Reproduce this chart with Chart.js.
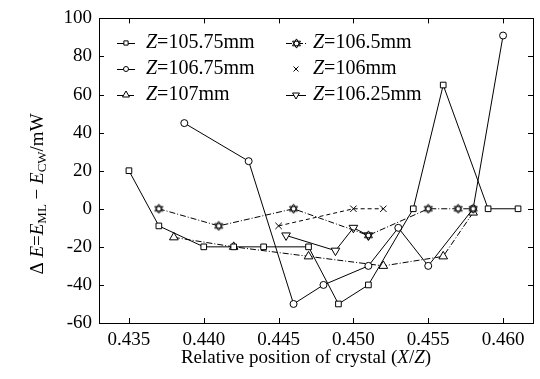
<!DOCTYPE html>
<html>
<head>
<meta charset="utf-8">
<script src="https://cdn.jsdelivr.net/npm/chart.js@4.4.1/dist/chart.umd.min.js"></script>
<style>
  html, body { margin: 0; padding: 0; background: #fff; }
  #wrap { width: 540px; height: 379px; }
</style>
</head>
<body>
<div id="wrap"><canvas id="chart" width="540" height="379"></canvas></div>
<script>
// Relative position X/Z and ΔE (mW) for each Z
const seriesNames = ['105.75mm', '106.5mm', '106.75mm', '106mm', '107mm', '106.25mm'];
const x10575 = [0.435, 0.437, 0.440, 0.442, 0.444, 0.447, 0.449, 0.451, 0.454, 0.456, 0.459, 0.461];
const y10575 = [20, -9, -20, -20, -20, -20, -50, -40, 0, 65, 0, 0];
const x1065 = [0.437, 0.441, 0.446, 0.451, 0.455, 0.457, 0.458];
const y1065 = [0, -9, 0, -14, 0, 0, 0];
const x10675 = [0.4387, 0.443, 0.446, 0.448, 0.451, 0.453, 0.455, 0.458, 0.460];
const y10675 = [45, 25, -50, -40, -30, -10, -30, 0, 91];
const x106 = [0.445, 0.450, 0.452];
const y106 = [-9, 0, 0];
const x107 = [0.438, 0.442, 0.447, 0.452, 0.456, 0.458];
const y107 = [-15, -20, -25, -30, -25, -2];
const x10625 = [0.4455, 0.4488, 0.450, 0.451];
const y10625 = [-14, -22, -10, -14];

const xTicks = [0.435, 0.440, 0.445, 0.450, 0.455, 0.460];
const yTicks = [-60, -40, -20, 0, 20, 40, 60, 80, 100];

const SERIF = '"Liberation Serif", "Times New Roman", serif';

function pts(xs, ys) {
    return xs.map((x, i) => ({ x: x, y: ys[i] }));
}

// hexagram marker (star of David)
function makeHexagram() {
    const c = document.createElement('canvas');
    c.width = 11; c.height = 11;
    const g = c.getContext('2d');
    const cx = 5.5, cy = 5.5, r = 4.6;
    const tris = [[-90, 30, 150], [90, 210, 330]];
    function path(angles) {
        g.beginPath();
        angles.forEach((a, k) => {
            const rad = a * Math.PI / 180;
            const px = cx + r * Math.cos(rad), py = cy + r * Math.sin(rad);
            if (k === 0) g.moveTo(px, py); else g.lineTo(px, py);
        });
        g.closePath();
    }
    g.fillStyle = '#fff';
    tris.forEach(t => { path(t); g.fill(); });
    g.lineWidth = 1;
    g.strokeStyle = '#000';
    tris.forEach(t => { path(t); g.stroke(); });
    return c;
}
const hexagram = makeHexagram();

function ds(label, data, style, radius, dash, rot) {
    return {
        label: label,
        data: data,
        showLine: true,
        borderColor: '#000',
        borderWidth: 1,
        borderDash: dash || [],
        tension: 0,
        pointStyle: style,
        pointRadius: radius,
        pointRotation: rot || 0,
        pointBackgroundColor: '#fff',
        pointBorderColor: '#000',
        pointBorderWidth: 1
    };
}

const datasets = [
    ds(seriesNames[0], pts(x10575, y10575), 'rect', 4),
    ds(seriesNames[1], pts(x1065, y1065), hexagram, 5, [6, 2, 1, 2]),
    ds(seriesNames[2], pts(x10675, y10675), 'circle', 3.5),
    ds(seriesNames[3], pts(x106, y106), 'crossRot', 4.5, [4, 3]),
    ds(seriesNames[4], pts(x107, y107), 'triangle', 5, [6, 2, 1, 2]),
    ds(seriesNames[5], pts(x10625, y10625), 'triangle', 5, [], 180)
];

// frame with inward ticks on all four sides
const frameTicks = {
    id: 'frameTicks',
    afterDatasetsDraw(chart) {
        const { ctx, chartArea: a, scales: { x, y } } = chart;
        ctx.save();
        ctx.strokeStyle = '#000';
        ctx.lineWidth = 1;
        ctx.setLineDash([]);
        ctx.strokeRect(Math.round(a.left) + 0.5, Math.round(a.top) + 0.5,
            Math.round(a.right - a.left), Math.round(a.bottom - a.top));
        ctx.beginPath();
        xTicks.forEach(v => {
            const px = Math.round(x.getPixelForValue(v)) + 0.5;
            ctx.moveTo(px, a.bottom); ctx.lineTo(px, a.bottom - 5);
            ctx.moveTo(px, a.top); ctx.lineTo(px, a.top + 5);
        });
        yTicks.forEach(v => {
            const py = Math.round(y.getPixelForValue(v)) + 0.5;
            ctx.moveTo(a.left, py); ctx.lineTo(a.left + 5, py);
            ctx.moveTo(a.right, py); ctx.lineTo(a.right - 5, py);
        });
        ctx.stroke();
        ctx.restore();
    }
};

// draw runs of text with mixed styles, starting at x0
function drawRuns(ctx, runs, x0, y0) {
    let xx = x0;
    runs.forEach(r => {
        ctx.font = r.font;
        ctx.fillText(r.t, xx, y0 + (r.dy || 0));
        xx += ctx.measureText(r.t).width;
    });
}
function runsWidth(ctx, runs) {
    let w = 0;
    runs.forEach(r => { ctx.font = r.font; w += ctx.measureText(r.t).width; });
    return w;
}

const axisTitles = {
    id: 'axisTitles',
    afterDraw(chart) {
        const { ctx, chartArea: a } = chart;
        const n = '19px ' + SERIF, it = 'italic 19px ' + SERIF, sub = '13px ' + SERIF;
        ctx.save();
        ctx.fillStyle = '#000';
        ctx.textBaseline = 'middle';
        ctx.textAlign = 'left';

        const xRuns = [
            { t: 'Relative position of crystal (', font: n },
            { t: 'X', font: it },
            { t: '/', font: n },
            { t: 'Z', font: it },
            { t: ')', font: n }
        ];
        const xw = runsWidth(ctx, xRuns);
        drawRuns(ctx, xRuns, (a.left + a.right) / 2 - xw / 2 - 10, 358);

        const yRuns = [
            { t: '\u0394 ', font: n },
            { t: 'E', font: it },
            { t: '=', font: n },
            { t: 'E', font: it },
            { t: 'ML', font: sub, dy: 5 },
            { t: ' \u2212 ', font: n },
            { t: 'E', font: it },
            { t: 'CW', font: sub, dy: 5 },
            { t: '/mW', font: n }
        ];
        const yw = runsWidth(ctx, yRuns);
        ctx.translate(38, 194);
        ctx.rotate(-Math.PI / 2);
        drawRuns(ctx, yRuns, -yw / 2, 0);
        ctx.restore();
    }
};

// two-column legend inside the plot
const innerLegend = {
    id: 'innerLegend',
    afterDraw(chart) {
        const { ctx } = chart;
        const lineX = [[117, 135], [286, 306]];
        const textX = [146, 313];
        const rowY = [43, 69, 95];
        ctx.save();
        ctx.fillStyle = '#000';
        ctx.textBaseline = 'middle';
        chart.data.datasets.forEach((d, i) => {
            const col = i % 2, row = Math.floor(i / 2);
            const yy = rowY[row];
            const [x1, x2] = lineX[col];
            const mx = (x1 + x2) / 2;
            if (d.pointStyle !== 'crossRot') {
                ctx.strokeStyle = '#000';
                ctx.lineWidth = 1;
                ctx.setLineDash(d.borderDash);
                ctx.beginPath();
                ctx.moveTo(x1, yy + 0.5); ctx.lineTo(x2, yy + 0.5);
                ctx.stroke();
                ctx.setLineDash([]);
            }
            if (d.pointStyle instanceof HTMLCanvasElement) {
                ctx.drawImage(d.pointStyle, Math.round(mx - d.pointStyle.width / 2), Math.round(yy - d.pointStyle.height / 2));
            } else {
                ctx.fillStyle = '#fff';
                ctx.strokeStyle = '#000';
                Chart.helpers.drawPoint(ctx, {
                    pointStyle: d.pointStyle, radius: d.pointRadius - 1,
                    rotation: d.pointRotation, borderWidth: 1
                }, mx, yy);
            }
            ctx.fillStyle = '#000';
            drawRuns(ctx, [
                { t: 'Z', font: 'italic 20px ' + SERIF },
                { t: '=' + d.label, font: '20px ' + SERIF }
            ], textX[col], yy);
        });
        ctx.restore();
    }
};

new Chart(document.getElementById('chart').getContext('2d'), {
    type: 'scatter',
    data: { datasets: datasets },
    options: {
        responsive: false,
        animation: false,
        layout: { padding: { top: 18, right: 7, left: 0, bottom: 0 } },
        plugins: {
            legend: { display: false },
            tooltip: { enabled: false }
        },
        scales: {
            x: {
                type: 'linear',
                min: 0.433,
                max: 0.462,
                afterBuildTicks: s => { s.ticks = xTicks.map(v => ({ value: v })); },
                afterFit: s => { s.height = 56; },
                grid: { display: false, drawTicks: false },
                border: { display: false },
                ticks: {
                    autoSkip: false,
                    maxRotation: 0,
                    padding: 6,
                    color: '#000',
                    font: { family: SERIF, size: 19 },
                    callback: v => v.toFixed(3)
                }
            },
            y: {
                type: 'linear',
                min: -60,
                max: 100,
                afterBuildTicks: s => { s.ticks = yTicks.map(v => ({ value: v })); },
                afterFit: s => { s.width = 99; },
                grid: { display: false, drawTicks: false },
                border: { display: false },
                ticks: {
                    autoSkip: false,
                    padding: 7,
                    color: '#000',
                    font: { family: SERIF, size: 19 }
                }
            }
        }
    },
    plugins: [frameTicks, axisTitles, innerLegend]
});
</script>
</body>
</html>
